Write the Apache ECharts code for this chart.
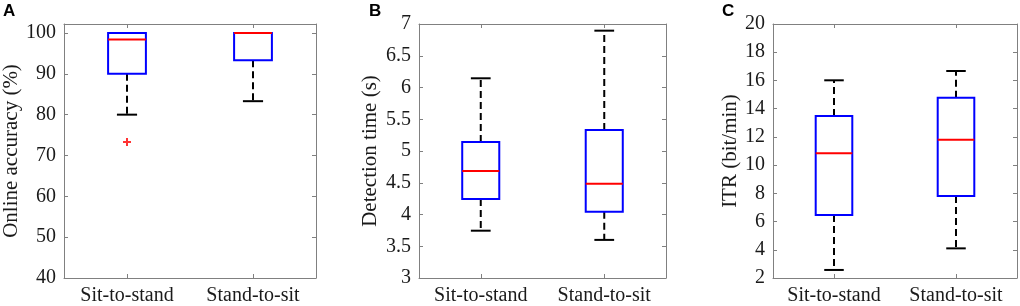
<!DOCTYPE html>
<html>
<head>
<meta charset="utf-8">
<script src="https://cdn.jsdelivr.net/npm/echarts@6/dist/echarts.min.js"></script>
<style>
  html, body { margin: 0; padding: 0; background: #fff; }
  #chart { width: 1020px; height: 306px; }
</style>
</head>
<body>
<div id="chart"></div>
<script>
// ---- data ----
const categories = ['Sit-to-stand', 'Stand-to-sit'];
// [lower whisker, Q1, median, Q3, upper whisker]
const accuracyStats = [[80, 90, 98.4, 100, 100], [83.3, 93.3, 100, 100, 100]];
const accuracyOutliers = [[0, 73.3]];
const detectionStats = [[3.745, 4.245, 4.685, 5.14, 6.145], [3.6, 4.045, 4.485, 5.33, 6.895]];
const detectionOutliers = [];
const itrStats = [[2.57, 6.46, 10.84, 13.48, 16.01], [4.1, 7.81, 11.8, 14.78, 16.67]];
const itrOutliers = [];
const accuracyTicks = [40, 50, 60, 70, 80, 90, 100];
const detectionTicks = [3, 3.5, 4, 4.5, 5, 5.5, 6, 6.5, 7];
const itrTicks = [2, 4, 6, 8, 10, 12, 14, 16, 18, 20];
const axisNames = ['Online accuracy (%)', 'Detection time (s)', 'ITR (bit/min)'];
const panelLetters = ['A', 'B', 'C'];

// ---- layout / style ----
const panels = [
  { left: 64, width: 252, min: 40, max: 102.2, ticks: accuracyTicks, stats: accuracyStats, outliers: accuracyOutliers, nameGap: 39, letterX: 3 },
  { left: 419, width: 247, min: 3, max: 7, ticks: detectionTicks, stats: detectionStats, outliers: detectionOutliers, nameGap: 38, letterX: 369 },
  { left: 773, width: 244, min: 2, max: 20, ticks: itrTicks, stats: itrStats, outliers: itrOutliers, nameGap: 32, letterX: 722 }
];
const TOP = 24, HEIGHT = 254;
const axisColor = '#808080';
const textColor = '#1a1a1a';
const serif = 'Liberation Serif, Times New Roman, serif';

const grids = [], xAxes = [], yAxes = [], series = [], titles = [];

panels.forEach((p, i) => {
  grids.push({ left: p.left, top: TOP, width: p.width, height: HEIGHT });
  const tickStyle = { show: true, inside: true, length: 4, lineStyle: { color: axisColor, width: 1 } };
  // bottom x
  xAxes.push({
    type: 'category', gridIndex: i, data: categories, position: 'bottom', boundaryGap: true,
    axisLine: { show: true, lineStyle: { color: axisColor, width: 1 } },
    axisTick: Object.assign({ alignWithLabel: true }, tickStyle),
    axisLabel: { color: textColor, fontFamily: serif, fontSize: 20, margin: 8 },
    splitLine: { show: false }
  });
  // top x (box)
  xAxes.push({
    type: 'category', gridIndex: i, data: categories, position: 'top', boundaryGap: true,
    axisLine: { show: true, lineStyle: { color: axisColor, width: 1 } },
    axisTick: Object.assign({ alignWithLabel: true }, tickStyle),
    axisLabel: { show: false }, splitLine: { show: false }
  });
  // left y
  yAxes.push({
    type: 'value', gridIndex: i, min: p.min, max: p.max, position: 'left',
    name: axisNames[i], nameLocation: 'middle', nameGap: p.nameGap,
    nameTextStyle: { color: textColor, fontFamily: serif, fontSize: 21 },
    axisLine: { show: true, lineStyle: { color: axisColor, width: 1 } },
    axisTick: Object.assign({ customValues: p.ticks }, tickStyle),
    axisLabel: { customValues: p.ticks, color: textColor, fontFamily: serif, fontSize: 20, margin: 8 },
    splitLine: { show: false }
  });
  // right y (box)
  yAxes.push({
    type: 'value', gridIndex: i, min: p.min, max: p.max, position: 'right',
    axisLine: { show: true, lineStyle: { color: axisColor, width: 1 } },
    axisTick: Object.assign({ customValues: p.ticks }, tickStyle),
    axisLabel: { show: false }, splitLine: { show: false }
  });

  const boxData = p.stats.map((s, k) => [k].concat(s));
  series.push({
    type: 'custom', xAxisIndex: 2 * i, yAxisIndex: 2 * i, data: boxData, silent: true,
    renderItem: function (params, api) {
      const x = api.value(0);
      const low = api.coord([x, api.value(1)]);
      const q1 = api.coord([x, api.value(2)]);
      const med = api.coord([x, api.value(3)]);
      const q3 = api.coord([x, api.value(4)]);
      const high = api.coord([x, api.value(5)]);
      const band = api.size([1, 0])[0];
      const hb = band * 0.15, hc = band * 0.08;
      const cx = low[0];
      const dash = { stroke: '#000', lineWidth: 2, lineDash: [7, 4] };
      const solid = { stroke: '#000', lineWidth: 2 };
      const children = [];
      if (high[1] < q3[1] - 0.5) {
        children.push({ type: 'line', shape: { x1: cx, y1: q3[1], x2: cx, y2: high[1] }, style: dash });
      }
      if (low[1] > q1[1] + 0.5) {
        children.push({ type: 'line', shape: { x1: cx, y1: q1[1], x2: cx, y2: low[1] }, style: dash });
      }
      children.push({ type: 'line', shape: { x1: cx - hc, y1: high[1], x2: cx + hc, y2: high[1] }, style: solid });
      children.push({ type: 'line', shape: { x1: cx - hc, y1: low[1], x2: cx + hc, y2: low[1] }, style: solid });
      children.push({ type: 'rect', shape: { x: cx - hb, y: q3[1], width: 2 * hb, height: q1[1] - q3[1] },
        style: { fill: 'none', stroke: '#0000ff', lineWidth: 2 } });
      children.push({ type: 'line', shape: { x1: cx - hb, y1: med[1], x2: cx + hb, y2: med[1] },
        style: { stroke: '#ff0000', lineWidth: 2 } });
      return { type: 'group', children: children };
    }
  });
  if (p.outliers.length) {
    series.push({
      type: 'scatter', xAxisIndex: 2 * i, yAxisIndex: 2 * i, data: p.outliers, silent: true,
      symbol: 'path://M3,0 L5,0 L5,3 L8,3 L8,5 L5,5 L5,8 L3,8 L3,5 L0,5 L0,3 L3,3 Z',
      symbolSize: 8, itemStyle: { color: '#ff0000' }
    });
  }
  titles.push({
    text: panelLetters[i], left: p.letterX, top: 3, padding: 0,
    textStyle: { fontFamily: 'Liberation Sans, Arial, sans-serif', fontWeight: 'bold', fontSize: 17, color: '#000' }
  });
});

const chart = echarts.init(document.getElementById('chart'), null, { renderer: 'canvas' });
chart.setOption({
  animation: false,
  backgroundColor: '#fff',
  title: titles,
  grid: grids,
  xAxis: xAxes,
  yAxis: yAxes,
  series: series
});
</script>
</body>
</html>
